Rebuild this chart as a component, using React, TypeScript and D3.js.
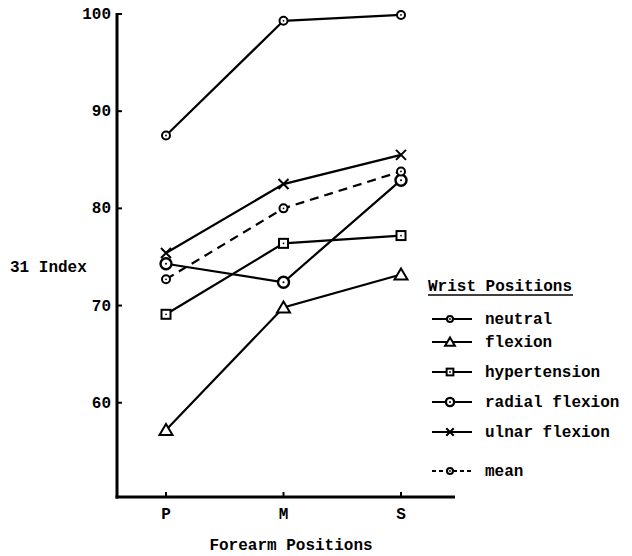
import React from "react";
import * as d3 from "d3";

const categories = ["P", "M", "S"];
const seriesNames = ["neutral", "flexion", "hypertension", "radial flexion", "ulnar flexion", "mean"];
const neutral = [87.5, 99.3, 99.9];
const flexion = [57.2, 69.8, 73.2];
const hypertension = [69.1, 76.4, 77.2];
const radialFlexion = [74.3, 72.4, 82.9];
const ulnarFlexion = [75.4, 82.5, 85.5];
const mean = [72.7, 80.0, 83.8];
const yTicks = [60, 70, 80, 90, 100];

const seriesValues = [neutral, flexion, hypertension, radialFlexion, ulnarFlexion, mean];
const markers = ["circle", "triangle", "square", "bigcircle", "x", "circle"];

const FONT = "'Liberation Mono', 'DejaVu Sans Mono', monospace";

function Marker({ type, x, y, k = 1 }: { type: string; x: number; y: number; k?: number }) {
  const s = { fill: "white", stroke: "black", strokeWidth: 2 } as const;
  if (type === "circle")
    return (
      <g>
        <circle cx={x} cy={y} r={4 * k} {...s} />
        <circle cx={x} cy={y} r={0.9} fill="black" />
      </g>
    );
  if (type === "bigcircle")
    return (
      <g>
        <circle cx={x} cy={y} r={5.5 * k} {...s} strokeWidth={2.4} />
        <circle cx={x} cy={y} r={1} fill="black" />
      </g>
    );
  if (type === "square")
    return (
      <g>
        <rect x={x - 4.5 * k} y={y - 4.5 * k} width={9 * k} height={9 * k} {...s} />
        <circle cx={x} cy={y} r={0.9} fill="black" />
      </g>
    );
  if (type === "triangle")
    return (
      <path
        d={`M${x},${y - 6 * k} L${x + 6.5 * k},${y + 5 * k} L${x - 6.5 * k},${y + 5 * k} Z`}
        {...s}
        strokeLinejoin="miter"
      />
    );
  return (
    <path
      d={`M${x - 5 * k},${y - 5 * k} L${x + 5 * k},${y + 5 * k} M${x - 5 * k},${y + 5 * k} L${x + 5 * k},${y - 5 * k}`}
      stroke="black"
      strokeWidth={2}
    />
  );
}

export default function App() {
  const W = 632, H = 556;
  const x = d3.scalePoint<string>().domain(categories).range([166, 401]);
  const y = d3.scaleLinear().domain([50.3, 100]).range([497, 14]);
  const axisX = 117;
  const axisY = y(50.3);
  const line = d3
    .line<number>()
    .x((_, i) => x(categories[i]) as number)
    .y((d) => y(d));

  const legendX = 432;
  const legendYs = [319, 342, 372, 402, 432, 471];

  return (
    <svg width={W} height={H} style={{ position: "absolute", left: 0, top: 0, background: "white" }}>
      <rect width={W} height={H} fill="white" />
      {/* axes */}
      <line x1={axisX} y1={y(100) - 1} x2={axisX} y2={axisY + 1.5} stroke="black" strokeWidth={3} />
      <line x1={axisX - 1.5} y1={axisY} x2={455} y2={axisY} stroke="black" strokeWidth={3} />
      {yTicks.map((t) => (
        <g key={t}>
          <line x1={axisX} x2={axisX + 5} y1={y(t)} y2={y(t)} stroke="black" strokeWidth={2} />
          <text x={axisX - 6} y={y(t) + 5} textAnchor="end" fontFamily={FONT} fontWeight="bold" fontSize={16}>
            {t}
          </text>
        </g>
      ))}
      {categories.map((c) => (
        <g key={c}>
          <line x1={x(c) as number} x2={x(c) as number} y1={axisY} y2={axisY - 5} stroke="black" strokeWidth={2} />
          <text x={x(c) as number} y={519} textAnchor="middle" fontFamily={FONT} fontWeight="bold" fontSize={16}>
            {c}
          </text>
        </g>
      ))}
      <text x={10} y={272} fontFamily={FONT} fontWeight="bold" fontSize={16}>
        31 Index
      </text>
      <text x={291} y={550} textAnchor="middle" fontFamily={FONT} fontWeight="bold" fontSize={16}>
        Forearm Positions
      </text>

      {/* series */}
      {seriesValues.map((vals, si) => (
        <path
          key={"l" + si}
          d={line(vals) as string}
          fill="none"
          stroke="black"
          strokeWidth={2.2}
          strokeDasharray={seriesNames[si] === "mean" ? "9,6" : undefined}
        />
      ))}
      {seriesValues.map((vals, si) =>
        vals.map((v, i) => <Marker key={si + "-" + i} type={markers[si]} x={x(categories[i]) as number} y={y(v)} />)
      )}

      {/* legend */}
      <text x={428} y={291} fontFamily={FONT} fontWeight="bold" fontSize={16}>
        Wrist Positions
      </text>
      <line x1={428} x2={573} y1={295} y2={295} stroke="black" strokeWidth={1.5} />
      {seriesNames.map((n, i) => (
        <g key={n}>
          <line
            x1={legendX}
            x2={legendX + 40}
            y1={legendYs[i]}
            y2={legendYs[i]}
            stroke="black"
            strokeWidth={2}
            strokeDasharray={n === "mean" ? "4,3" : undefined}
          />
          <Marker type={markers[i]} x={legendX + 18} y={legendYs[i]} k={0.75} />
          <text x={485} y={legendYs[i] + 5} fontFamily={FONT} fontWeight="bold" fontSize={16}>
            {n}
          </text>
        </g>
      ))}
    </svg>
  );
}
